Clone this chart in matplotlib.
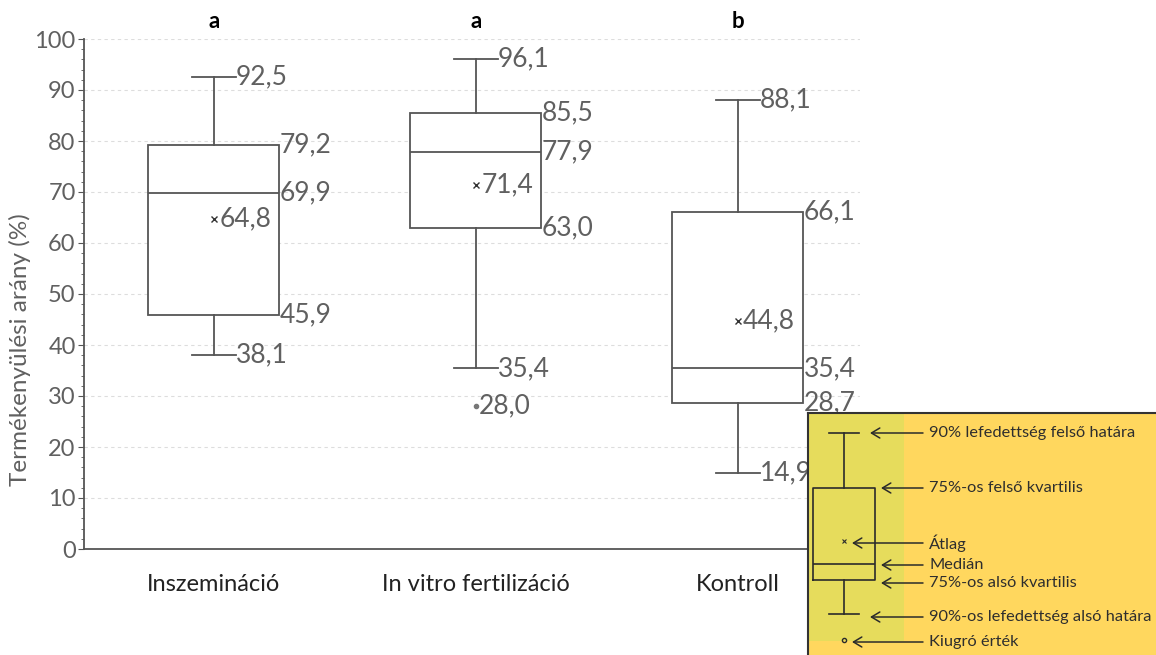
import matplotlib
matplotlib.use('Agg')
import matplotlib.pyplot as plt

plt.rcParams['font.family'] = ['Lato', 'DejaVu Sans']

# data
groups = ['Inszemináció', 'In vitro fertilizáció', 'Kontroll']
letters = ['a', 'a', 'b']
whis_hi = [92.5, 96.1, 88.1]
q3 = [79.2, 85.5, 66.1]
median = [69.9, 77.9, 35.4]
mean = [64.8, 71.4, 44.8]
q1 = [45.9, 63.0, 28.7]
whis_lo = [38.1, 35.4, 14.9]
outliers = [[], [28.0], []]

# legend sample box (inset units)
leg_stats = dict(whishi=20, q3=75, mean=128, med=151, q1=167, whislo=201, fliers=[227])
leg_texts = ['90% lefedettség felső határa', '75%-os felső kvartilis', 'Átlag', 'Medián',
             '75%-os alsó kvartilis', '90%-os lefedettség alsó határa', 'Kiugró érték']
leg_text_y = [20, 75, 130, 152, 170, 204, 229]
leg_arrow_x = [62, 73, 44, 73, 73, 62, 44]

line_c = '#555555'
text_c = '#606060'

def fmt(v):
    return f'{v:.1f}'.replace('.', ',')

fig = plt.figure(figsize=(11.56, 6.55), dpi=100)
ax = fig.add_axes([84 / 1156, 1 - 549 / 655, (860 - 84) / 1156, (549 - 39) / 655])

stats = []
for i in range(len(groups)):
    stats.append(dict(med=median[i], q1=q1[i], q3=q3[i], whislo=whis_lo[i],
                      whishi=whis_hi[i], mean=mean[i], fliers=outliers[i]))

pos = list(range(len(groups)))
ax.bxp(stats, positions=pos, widths=0.5, capwidths=0.165, showmeans=True,
       patch_artist=True,
       boxprops=dict(facecolor='white', edgecolor=line_c, linewidth=1.3),
       medianprops=dict(color=line_c, linewidth=1.3),
       whiskerprops=dict(color=line_c, linewidth=1.3),
       capprops=dict(color=line_c, linewidth=1.3),
       meanprops=dict(marker='x', markeredgecolor='#333333', markersize=5, markeredgewidth=1),
       flierprops=dict(marker='o', markersize=3, markerfacecolor='#777777', markeredgecolor='#777777'))

fs = 19
for i, p in enumerate(pos):
    ax.text(p + 0.083, whis_hi[i], fmt(whis_hi[i]), ha='left', va='center', fontsize=fs, color=text_c)
    ax.text(p + 0.25, q3[i], fmt(q3[i]), ha='left', va='center', fontsize=fs, color=text_c)
    ax.text(p + 0.25, median[i], fmt(median[i]), ha='left', va='center', fontsize=fs, color=text_c)
    ax.text(p + 0.25, q1[i], fmt(q1[i]), ha='left', va='center', fontsize=fs, color=text_c)
    ax.text(p + 0.083, whis_lo[i], fmt(whis_lo[i]), ha='left', va='center', fontsize=fs, color=text_c)
    ax.text(p + 0.02, mean[i], fmt(mean[i]), ha='left', va='center', fontsize=fs, color=text_c)
    for o in outliers[i]:
        ax.text(p + 0.012, o, fmt(o), ha='left', va='center', fontsize=fs, color=text_c)
    ax.annotate(letters[i], xy=(p, 1.035), xycoords=('data', 'axes fraction'),
                ha='center', va='center', fontsize=16, fontweight='bold', color='black')

ax.set_xlim(-0.496, 2.466)
ax.set_ylim(0, 100)
ax.set_yticks(range(0, 101, 10))
ax.set_yticks(range(0, 101, 2), minor=True)
ax.set_xticks(pos)
ax.set_xticklabels(groups, fontsize=17, color='#222222')
ax.tick_params(axis='x', length=0, pad=18)
ax.tick_params(axis='y', which='major', direction='out', length=4, color=line_c,
               labelsize=17, labelcolor=text_c, pad=2)
ax.tick_params(axis='y', which='minor', direction='out', length=2, color=line_c)
ax.grid(axis='y', which='major', linestyle=(0, (3, 3)), color='#dddddd', linewidth=0.8)
ax.set_axisbelow(True)
for s in ['top', 'right']:
    ax.spines[s].set_visible(False)
ax.spines['left'].set_color(line_c)
ax.spines['bottom'].set_color(line_c)
ax.spines['left'].set_linewidth(1.3)
ax.spines['bottom'].set_linewidth(1.3)
ax.set_ylabel('Termékenyülési arány (%)', fontsize=17.5, color=text_c)
ax.yaxis.set_label_coords(-0.068, 0.39)

# explanation inset
lx = fig.add_axes([808 / 1156, 0, 348 / 1156, 242 / 655])
lx.set_xlim(0, 348)
lx.set_ylim(242, 0)
lx.set_facecolor('#FFD75E')
lx.add_patch(plt.Rectangle((0, 0), 96, 228, facecolor='#E6DC5C', edgecolor='none', zorder=0))
dark = '#2b2b2b'
lx.bxp([leg_stats], positions=[36], widths=62, capwidths=30, showmeans=True,
       boxprops=dict(color=dark, linewidth=1.2),
       medianprops=dict(color=dark, linewidth=1.2),
       whiskerprops=dict(color=dark, linewidth=1.2),
       capprops=dict(color=dark, linewidth=1.2),
       meanprops=dict(marker='x', markeredgecolor=dark, markersize=3, markeredgewidth=0.8),
       flierprops=dict(marker='o', markersize=3, markerfacecolor='none', markeredgecolor=dark))
for t, y, x in zip(leg_texts, leg_text_y, leg_arrow_x):
    lx.annotate('', xy=(x, y), xytext=(115, y),
                arrowprops=dict(arrowstyle='->,head_length=0.5,head_width=0.3', color=dark,
                                lw=1.1, mutation_scale=12, shrinkA=0, shrinkB=0))
    lx.text(121, y, t, ha='left', va='center', fontsize=11.8, color='#2e2e2e')
lx.set_xticks([])
lx.set_yticks([])
for s in ['right', 'bottom']:
    lx.spines[s].set_visible(False)
lx.spines['top'].set_color('#333333')
lx.spines['left'].set_color('#333333')
lx.spines['top'].set_linewidth(1.5)
lx.spines['left'].set_linewidth(1.5)

fig.savefig('out.png', dpi=100)
